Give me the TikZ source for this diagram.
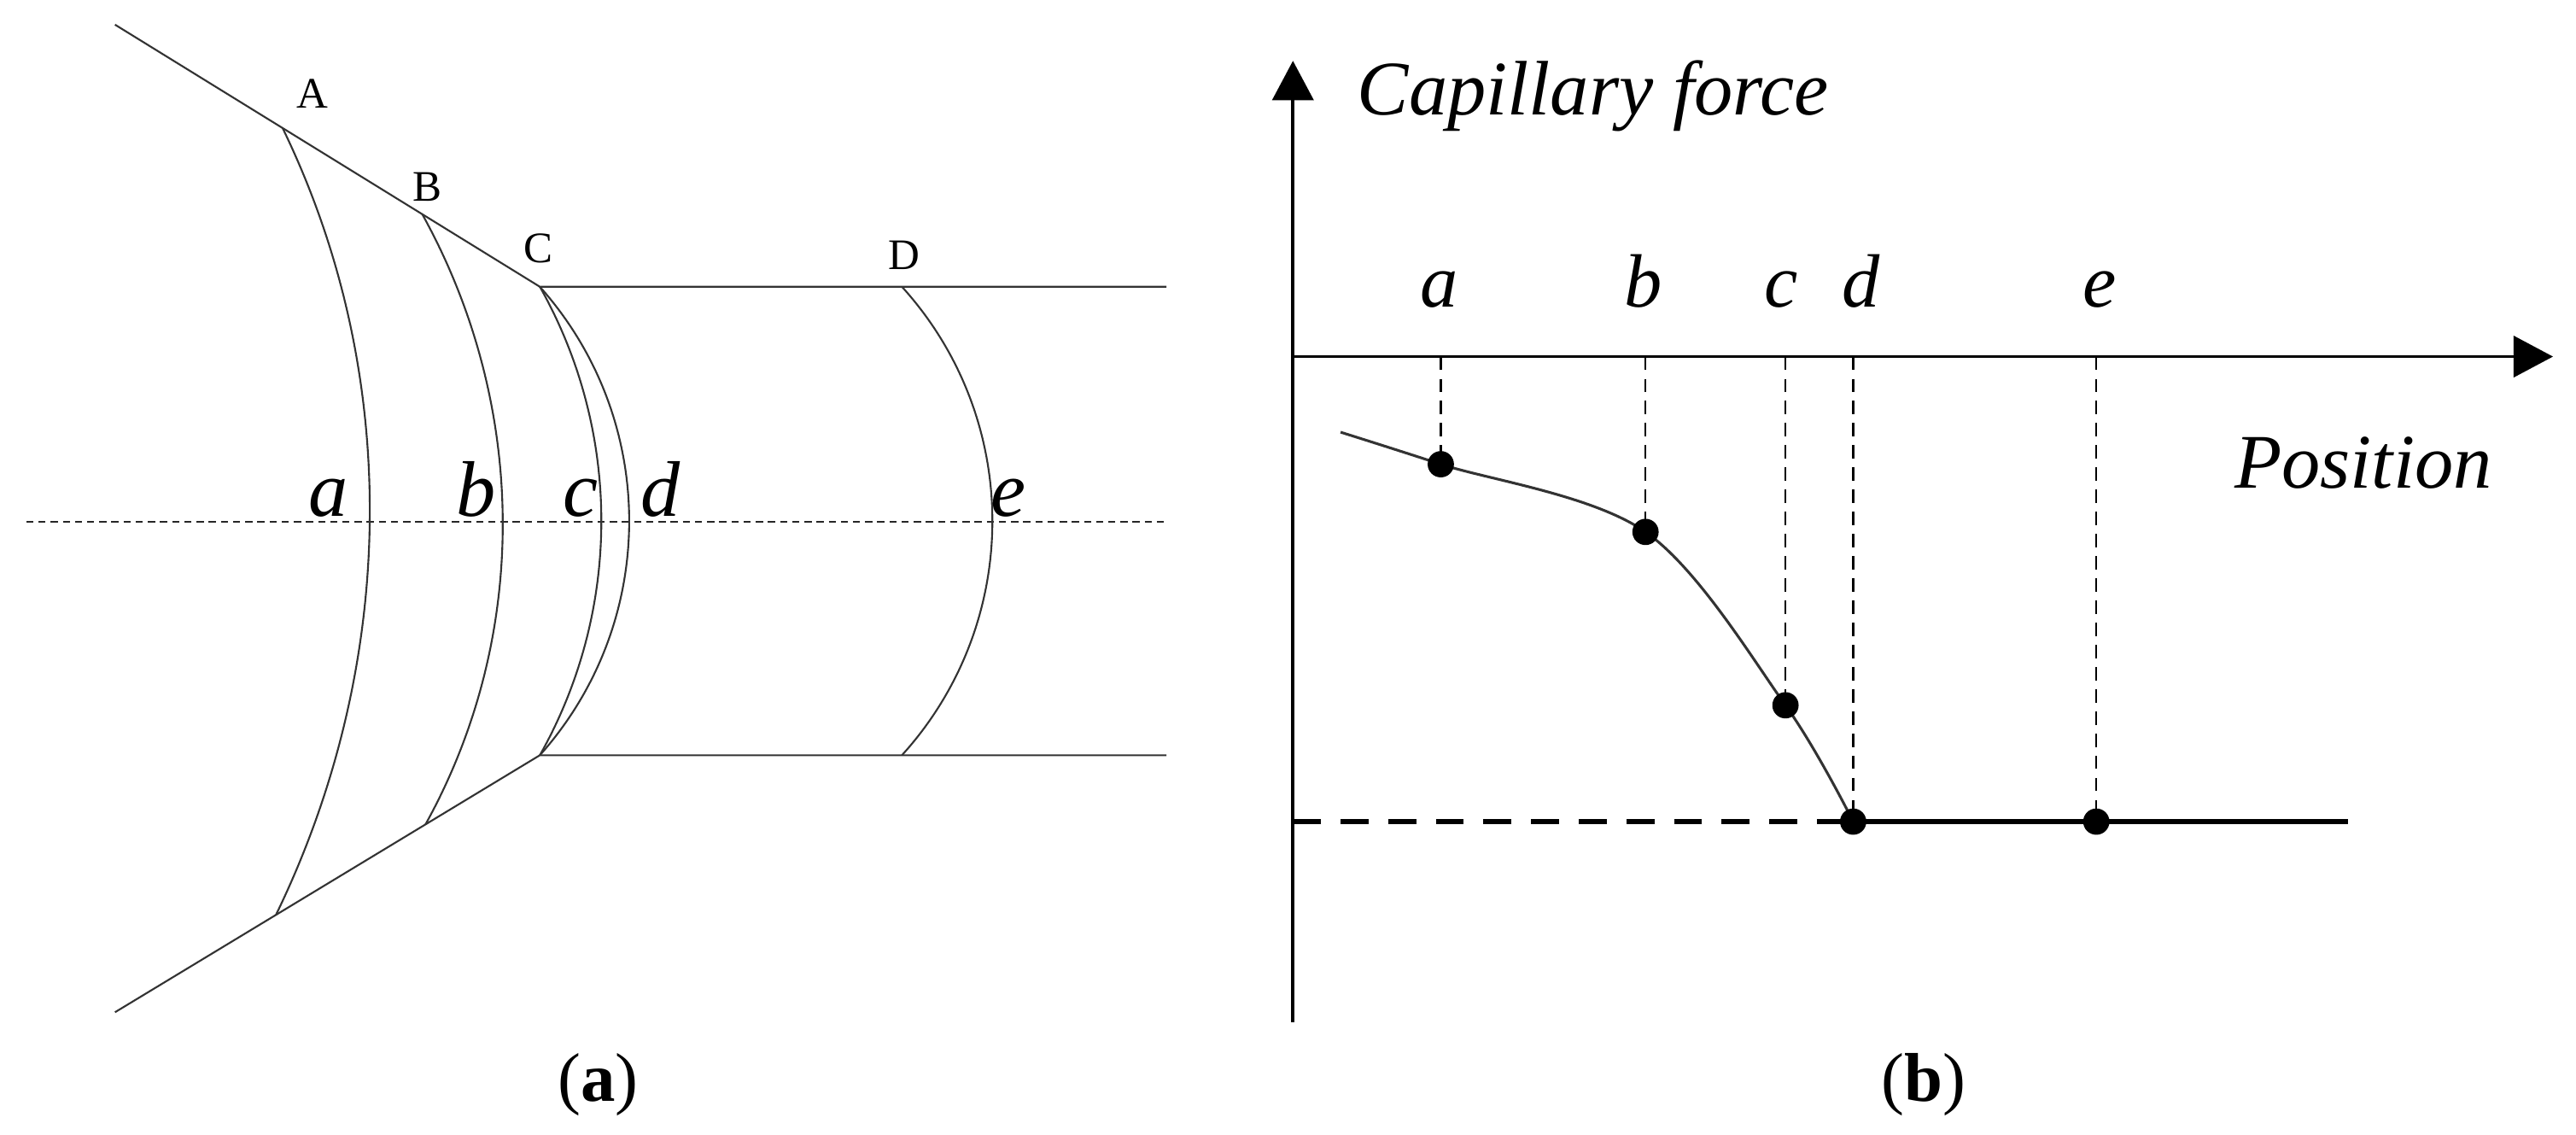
\documentclass[tikz,border=0pt]{standalone}
\usepackage{fontspec}
\setmainfont{Liberation Serif}
\usetikzlibrary{arrows.meta}
\begin{document}
\begin{tikzpicture}[x=1pt,y=-1pt,
  wall/.style={line width=1.1pt, draw=black!80},
  centerline/.style={line width=1.1pt, draw=black!85, dash pattern=on 4.4pt off 3pt},
  axis/.style={line width=2pt, draw=black, -{Triangle[length=24pt,width=25pt]}},
  vdash/.style={line width=1.3pt, draw=black, dash pattern=on 8pt off 5.5pt},
  hdash/.style={line width=3.3pt, draw=black, dash pattern=on 17pt off 12pt},
  thickline/.style={line width=3.3pt, draw=black},
  curve/.style={line width=1.6pt, draw=black!80},
  dot/.style={circle, fill=black, inner sep=0pt, minimum size=16pt},
  caplab/.style={inner sep=0pt, font=\fontsize{26.5}{28}\selectfont},
  ilabL/.style={inner sep=0pt, anchor=base, font=\fontsize{48}{50}\selectfont\itshape},
  ilabR/.style={inner sep=0pt, anchor=base, font=\fontsize{46}{48}\selectfont\itshape},
  axlab/.style={inner sep=0pt, anchor=base west, font=\fontsize{47}{49}\selectfont\itshape},
  sublab/.style={inner sep=0pt, font=\fontsize{42}{44}\selectfont}
]
\useasboundingbox (0,0) rectangle (1568,690.2);

% ---------- panel (a) ----------
\coordinate (L1) at (70,15);
\coordinate (C)  at (328.6,174.5);
\coordinate (L2) at (70,616);
\coordinate (C2) at (328.6,459.6);
\coordinate (T)  at (710,174.5);
\coordinate (B2) at (710,459.6);
\coordinate (M1) at (16,317.5);
\coordinate (M2) at (710,317.5);

\draw[centerline] (M1) -- (M2);
\draw[wall] (L1) -- (C) -- (T);
\draw[wall] (L2) -- (C2) -- (B2);

\coordinate (aT) at (172,77.9);
\coordinate (aB) at (168,556.7);
\coordinate (bT) at (257,130.3);
\coordinate (bB) at (259,501.7);
\coordinate (eT) at (549,174.5);
\coordinate (eB) at (549,459.6);

\draw[wall] (aT) .. controls (245.4,229.1) and (241.4,405.5) .. (aB);
\draw[wall] (bT) .. controls (321.0,245.9) and (323.0,386.1) .. (bB);
\draw[wall] (C) .. controls (378.5,263.0) and (378.5,371.1) .. (C2);
\draw[wall] (C) .. controls (401.1,255.7) and (401.1,378.4) .. (C2);
\draw[wall] (eT) .. controls (622.4,255.4) and (622.4,378.7) .. (eB);

\node[caplab] (nA) at (190,57) {A};
\node[caplab] (nB) at (260,114) {B};
\node[caplab] (nC) at (327.6,151) {C};
\node[caplab] (nD) at (550.4,155.5) {D};

\node[ilabL] (la) at (200,314) {a};
\node[ilabL] (lb) at (290,314) {b};
\node[ilabL] (lc) at (353.5,314) {c};
\node[ilabL] (ld) at (401.8,314) {d};
\node[ilabL] (le) at (614,314) {e};

\node[sublab] (suba) at (364,660) {(\textbf{a})};

% ---------- panel (b) ----------
\coordinate (O)  at (787,217);
\coordinate (yb) at (787,622);
\coordinate (yt) at (787,37);
\coordinate (xe) at (1554,217);

\coordinate (p0) at (816,263);
\coordinate (pa) at (877,282.5);
\coordinate (pb) at (1001.6,323.7);
\coordinate (pc) at (1086.8,429.2);
\coordinate (pd) at (1128,500);
\coordinate (pe) at (1276,500);
\coordinate (hs) at (787,500);
\coordinate (he) at (1429,500);

\draw[vdash] (pa |- O) -- (pa);
\draw[vdash] (pb |- O) -- (pb);
\draw[vdash] (pc |- O) -- (pc);
\draw[vdash] (pd |- O) -- (pd);
\draw[vdash] (pe |- O) -- (pe);

\draw[axis] (yb) -- (yt);
\draw[axis] (O) -- (xe);

\draw[curve] plot[smooth, tension=0.55] coordinates {(p0) (pa) (pb) (pc) (pd)};
\draw[hdash] (hs) -- (pd);
\draw[thickline] (pd) -- (he);

\node[dot] (da) at (pa) {};
\node[dot] (db) at (pb) {};
\node[dot] (dc) at (pc) {};
\node[dot] (dd) at (pd) {};
\node[dot] (de) at (pe) {};

\node[axlab] (cf) at (826,70) {Capillary force};
\node[axlab] (pos) at (1360,297) {Position};

\node[ilabR] (ra) at (876,187) {a};
\node[ilabR] (rb) at (1000,187) {b};
\node[ilabR] (rc) at (1084,187) {c};
\node[ilabR] (rd) at (1133,187) {d};
\node[ilabR] (re) at (1278,187) {e};

\node[sublab] (subb) at (1171,660) {(\textbf{b})};
\end{tikzpicture}
\end{document}
